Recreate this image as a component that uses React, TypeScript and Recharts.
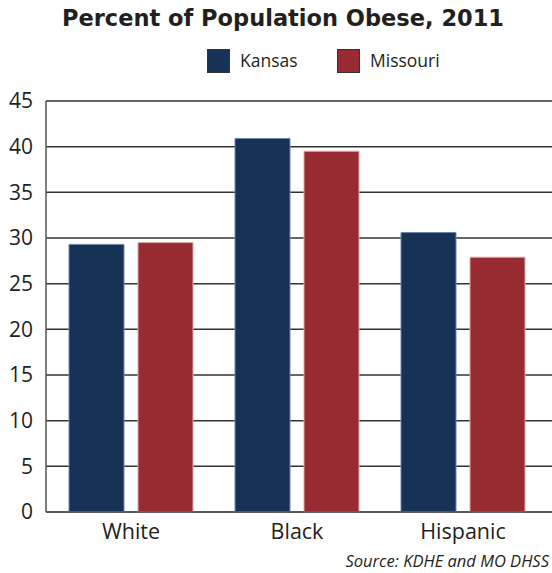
import React from "react";
import { BarChart, Bar, XAxis, YAxis, CartesianGrid } from "recharts";

const categories = ["White", "Black", "Hispanic"];
const kansas = [29.3, 40.9, 30.6];
const missouri = [29.5, 39.5, 27.9];
const yTicks = [0, 5, 10, 15, 20, 25, 30, 35, 40, 45];

const data = categories.map((c, i) => ({ name: c, Kansas: kansas[i], Missouri: missouri[i] }));

const KANSAS = "#163256";
const MISSOURI = "#982a31";
const FONT = "'Open Sans', 'Noto Sans', sans-serif";

export default function App() {
  return (
    <div style={{ position: "absolute", left: 0, top: 0, width: 552, height: 573, background: "#fff", fontFamily: FONT }}>
      <div style={{ position: "absolute", left: 0, width: 552, top: 5, textAlign: "center", paddingLeft: 14, boxSizing: "border-box", fontFamily: "'DejaVu Sans', sans-serif", fontWeight: 700, fontSize: 22.5, color: "#231f20", whiteSpace: "nowrap" }}>
        Percent of Population Obese, 2011
      </div>
      <div style={{ position: "absolute", left: 207, top: 49, width: 23, height: 24, background: KANSAS, border: "1px solid #333", boxSizing: "border-box" }} />
      <div style={{ position: "absolute", left: 240, top: 48, fontSize: 17.5, color: "#231f20" }}>Kansas</div>
      <div style={{ position: "absolute", left: 337, top: 49, width: 23, height: 24, background: MISSOURI, border: "1px solid #333", boxSizing: "border-box" }} />
      <div style={{ position: "absolute", left: 370, top: 48, fontSize: 17.5, color: "#231f20" }}>Missouri</div>
      <BarChart width={552} height={573} data={data} margin={{ top: 101, right: 0, left: 0, bottom: 31 }} barSize={55} barGap={14}>
        <CartesianGrid vertical={false} stroke="#333" strokeWidth={1.5} />
        <XAxis dataKey="name" height={30} tickLine={false} tickSize={0} tickMargin={12} axisLine={{ stroke: "#555", strokeWidth: 1.5 }} padding={{ left: 2, right: 6 }} tick={{ fill: "#231f20", fontSize: 21.5, fontFamily: FONT }} />
        <YAxis width={46} domain={[0, 45]} ticks={yTicks} interval={0} tickLine={false} tickSize={0} tickMargin={13} axisLine={{ stroke: "#555", strokeWidth: 1.5 }} tick={{ fill: "#231f20", fontSize: 21, fontFamily: FONT }} />
        <Bar dataKey="Kansas" fill={KANSAS} stroke="#6f86a6" strokeWidth={1} isAnimationActive={false} />
        <Bar dataKey="Missouri" fill={MISSOURI} stroke="#e2a9ac" strokeWidth={1} isAnimationActive={false} />
      </BarChart>
      <div style={{ position: "absolute", right: 3, top: 549, fontSize: 16.5, fontStyle: "italic", color: "#231f20", whiteSpace: "nowrap" }}>
        Source: KDHE and MO DHSS
      </div>
    </div>
  );
}
